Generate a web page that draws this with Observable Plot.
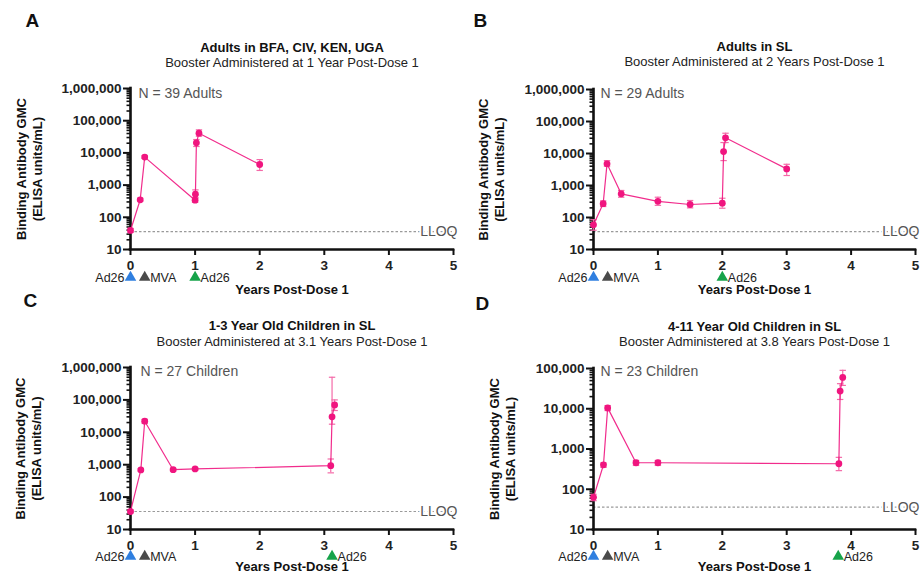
<!DOCTYPE html>
<html><head><meta charset="utf-8">
<script src="https://cdn.jsdelivr.net/npm/d3@7"></script>
<script src="https://cdn.jsdelivr.net/npm/@observablehq/plot@0.6"></script>
<style>
body{margin:0;background:#fff;}
#fig{position:relative;width:921px;height:571px;overflow:hidden;font-family:"Liberation Sans",Arial,sans-serif;background:#fff;}
.panel{position:absolute;}
</style></head><body><div id="fig"></div>
<script>
// ---- Data ----
const xTicks = [0, 1, 2, 3, 4, 5];
const yTicksWide = [10, 100, 1000, 10000, 100000, 1000000];
const yTicksNarrow = [10, 100, 1000, 10000, 100000];
const LLOQ = 36;

const aYears = [0, 0.15, 0.22, 1.0, 1.005, 1.02, 1.06, 2.0];
const aGMC   = [39, 350, 7400, 340, 520, 20600, 41000, 4370];
const aLower = [34, 320, 6800, 290, 400, 15800, 33000, 2850];
const aUpper = [45, 390, 8200, 400, 710, 26000, 52000, 6200];

const bYears = [0, 0.15, 0.21, 0.43, 1.0, 1.5, 2.0, 2.02, 2.05, 3.0];
const bGMC   = [59, 270, 4750, 550, 320, 255, 280, 11500, 31000, 3300];
const bLower = [40, 220, 4000, 430, 240, 200, 195, 6000, 22000, 2050];
const bUpper = [85, 330, 6000, 700, 430, 340, 400, 22000, 43000, 4600];

const cYears = [0, 0.16, 0.22, 0.66, 1.0, 3.1, 3.12, 3.16];
const cGMC   = [36, 690, 22000, 700, 740, 930, 30000, 70000];
const cLower = [33, 640, 19000, 640, 680, 560, 17800, 47000];
const cUpper = [40, 750, 25000, 770, 800, 1500, 500000, 100000];

const dYears = [0, 0.155, 0.22, 0.66, 1.0, 3.81, 3.83, 3.87];
const dGMC   = [63, 405, 10500, 455, 455, 430, 27500, 60000];
const dLower = [52, 350, 9000, 390, 390, 290, 17000, 38000];
const dUpper = [75, 450, 12000, 520, 520, 620, 42000, 90000];

const vaxLabels = ["Ad26", "MVA", "Ad26"];
const vaxColors = ["#2f7fe0", "#4a4a4a", "#16a34a"];
const vaxSides  = ["left", "right", "right"];
const aVaxYears = [0, 0.22, 1.0];
const bVaxYears = [0, 0.22, 2.0];
const cVaxYears = [0, 0.22, 3.12];
const dVaxYears = [0, 0.22, 3.8];

const titles = ["Adults in BFA, CIV, KEN, UGA", "Adults in SL", "1-3 Year Old Children in SL", "4-11 Year Old Children in SL"];
const subtitles = ["Booster Administered at 1 Year Post-Dose 1", "Booster Administered at 2 Years Post-Dose 1",
  "Booster Administered at 3.1 Years Post-Dose 1", "Booster Administered at 3.8 Years Post-Dose 1"];
const nLabels = ["N = 39 Adults", "N = 29 Adults", "N = 27 Children", "N = 23 Children"];
const letters = ["A", "B", "C", "D"];
const yTitle = "Binding Antibody GMC\n(ELISA units/mL)";
const xTitle = "Years Post-Dose 1";

// ---- Drawing ----
const PINK = "#f0157f";
const PINK_LIGHT = "#f46aa8";
const capSymbol = {draw(ctx, size) { const w = Math.sqrt(size / Math.PI); ctx.moveTo(-w, 0); ctx.lineTo(w, 0); }};

function panel(cfg) {
  const rows = cfg.years.map((x, i) => ({x, y: cfg.gmc[i], lo: cfg.lower[i], hi: cfg.upper[i]}));
  const vax = cfg.vaxYears.map((x, i) => ({x, color: vaxColors[i], label: vaxLabels[i], side: vaxSides[i]}));
  const yMajor = cfg.yTicks;
  const minor = [];
  for (let j = 0; j < yMajor.length - 1; j++) for (let k = 2; k <= 9; k++) minor.push(k * yMajor[j]);
  const yMin = yMajor[0], yMax = yMajor[yMajor.length - 1];
  const mT = cfg.mT, mL = cfg.mL;
  const plot = Plot.plot({
    width: cfg.width, height: cfg.height,
    marginLeft: mL, marginRight: cfg.mR, marginTop: mT, marginBottom: cfg.mB,
    style: {background: "transparent", overflow: "visible", fontFamily: "'Liberation Sans', Arial, sans-serif"},
    x: {domain: [0, 5]},
    y: {type: "log", domain: [yMin, yMax]},
    marks: [
      Plot.ruleY([LLOQ], {stroke: "#9a9a9a", strokeDasharray: "2.5,2", strokeWidth: 1.2}),
      Plot.text([LLOQ], {y: d => d, text: () => "LLOQ", frameAnchor: "right", textAnchor: "end", lineAnchor: "middle", dx: 4,
        fontSize: 14, fill: "#555", stroke: "white", strokeWidth: 4, paintOrder: "stroke"}),
      Plot.axisY(minor, {tickSize: 3.5, tickFormat: () => "", strokeWidth: 1.6, stroke: "#111", label: null}),
      Plot.axisY(yMajor, {tickSize: 7, tickPadding: 2, tickFormat: d3.format(","), fontSize: 13.5, fontWeight: "bold",
        strokeWidth: 2, stroke: "#111", fill: "#222", label: null}),
      Plot.axisX(xTicks, {tickSize: 6, tickPadding: 5, fontSize: 13.5, fontWeight: "bold", strokeWidth: 2,
        stroke: "#111", fill: "#222", label: null}),
      Plot.ruleX([0], {stroke: "#111", strokeWidth: 2.6, strokeLinecap: "square"}),
      Plot.ruleY([yMin], {stroke: "#111", strokeWidth: 2.6, strokeLinecap: "square"}),
      Plot.ruleX(rows, {x: "x", y1: "lo", y2: "hi", stroke: PINK_LIGHT, strokeWidth: 1.2}),
      Plot.dot(rows, {x: "x", y: "lo", symbol: capSymbol, r: 3.2, stroke: PINK_LIGHT, strokeWidth: 1.2}),
      Plot.dot(rows, {x: "x", y: "hi", symbol: capSymbol, r: 3.2, stroke: PINK_LIGHT, strokeWidth: 1.2}),
      Plot.line(rows, {x: "x", y: "y", stroke: PINK, strokeWidth: 1.2, strokeOpacity: 0.9}),
      Plot.dot(rows, {x: "x", y: "y", r: 3.4, fill: PINK}),
      Plot.dot(vax, {x: "x", frameAnchor: "bottom", dy: cfg.vaxDy, symbol: "triangle", r: 4.3, fill: "color"}),
      Plot.text(vax.filter(d => d.side === "left"), {x: "x", text: "label", frameAnchor: "bottom", dy: cfg.vaxDy,
        textAnchor: "end", lineAnchor: "middle", dx: -6, fontSize: 12.5, fill: "#222"}),
      Plot.text(vax.filter(d => d.side === "right"), {x: "x", text: "label", frameAnchor: "bottom", dy: cfg.vaxDy,
        textAnchor: "start", lineAnchor: "middle", dx: 5.5, fontSize: 12.5, fill: "#222"}),
      Plot.text([xTitle], {text: d => d, frameAnchor: "bottom", dy: cfg.xTitleDy, lineAnchor: "middle", textAnchor: "middle",
        fontSize: 13, fontWeight: "bold", fill: "#111"}),
      Plot.text([yTitle], {text: d => d, frameAnchor: "left", dx: cfg.yTitleDx, rotate: -90, textAnchor: "middle",
        lineAnchor: "middle", fontSize: 13, fontWeight: "bold", lineHeight: 1.23, fill: "#111"}),
      Plot.text([cfg.title], {text: d => d, frameAnchor: "top", dy: cfg.titleDy, lineAnchor: "middle", textAnchor: "middle",
        fontSize: 13, fontWeight: "bold", fill: "#111"}),
      Plot.text([cfg.subtitle], {text: d => d, frameAnchor: "top", dy: cfg.subDy, lineAnchor: "middle", textAnchor: "middle",
        fontSize: 13, fill: "#222"}),
      Plot.text([cfg.nLabel], {text: d => d, frameAnchor: "top-left", dx: cfg.nDx, dy: cfg.nDy, textAnchor: "start",
        lineAnchor: "middle", fontSize: 14, fill: "#555"}),
      Plot.text([cfg.letter], {text: d => d, frameAnchor: "top-left", dx: cfg.letterDx, dy: cfg.letterDy,
        textAnchor: "start", lineAnchor: "middle", fontSize: 19, fontWeight: "bold", fill: "#111"})
    ]
  });
  const div = document.createElement("div");
  div.className = "panel";
  div.style.left = cfg.left + "px";
  div.style.top = cfg.top + "px";
  div.appendChild(plot);
  document.getElementById("fig").appendChild(div);
}

panel({left: 0, top: 0, width: 460, height: 295, mL: 130, mR: 7, mT: 88, mB: 46,
  years: aYears, gmc: aGMC, lower: aLower, upper: aUpper, vaxYears: aVaxYears, yTicks: yTicksWide,
  vaxDy: 28, xTitleDy: 40, yTitleDx: -102, titleDy: -41, subDy: -26, nDx: 8, nDy: 4.7, letterDx: -105, letterDy: -68,
  title: titles[0], subtitle: subtitles[0], nLabel: nLabels[0], letter: letters[0]});
panel({left: 460, top: 0, width: 461, height: 295, mL: 133, mR: 6, mT: 89, mB: 46,
  years: bYears, gmc: bGMC, lower: bLower, upper: bUpper, vaxYears: bVaxYears, yTicks: yTicksWide,
  vaxDy: 28, xTitleDy: 40, yTitleDx: -102.5, titleDy: -42.3, subDy: -27.3, nDx: 7, nDy: 3.7, letterDx: -120, letterDy: -69,
  title: titles[1], subtitle: subtitles[1], nLabel: nLabels[1], letter: letters[1]});
panel({left: 0, top: 285, width: 460, height: 286, mL: 130, mR: 7, mT: 82, mB: 42,
  years: cYears, gmc: cGMC, lower: cLower, upper: cUpper, vaxYears: cVaxYears, yTicks: yTicksWide,
  vaxDy: 27, xTitleDy: 37, yTitleDx: -102.5, titleDy: -42, subDy: -26, nDx: 10, nDy: 4, letterDx: -107, letterDy: -67,
  title: titles[2], subtitle: subtitles[2], nLabel: nLabels[2], letter: letters[2]});
panel({left: 460, top: 285, width: 461, height: 286, mL: 133, mR: 6, mT: 83, mB: 42,
  years: dYears, gmc: dGMC, lower: dLower, upper: dUpper, vaxYears: dVaxYears, yTicks: yTicksNarrow,
  vaxDy: 27, xTitleDy: 37, yTitleDx: -91.3, titleDy: -41.3, subDy: -27, nDx: 7, nDy: 3, letterDx: -118, letterDy: -65,
  title: titles[3], subtitle: subtitles[3], nLabel: nLabels[3], letter: letters[3]});
</script></body></html>
